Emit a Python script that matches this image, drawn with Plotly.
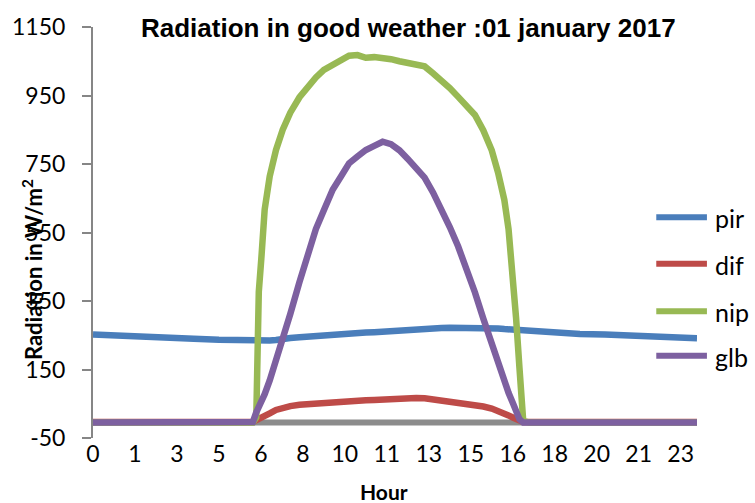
import plotly.graph_objects as go

# minute of day (0..1439), shared sampling grid
minutes = [0, 60, 120, 180, 240, 300, 360, 381, 389, 391, 395, 401, 409, 421, 436, 452, 470,
           492, 510, 531, 550, 571, 590, 610, 630, 650, 670, 690, 710, 730, 750, 770, 790,
           810, 830, 850, 870, 890, 910, 930, 950, 965, 980, 990, 1000, 1008, 1016, 1025,
           1040, 1100, 1160, 1220, 1280, 1340, 1400, 1439]

pir = [252, 250, 246, 243, 240, 237, 234, 233, 233, 233, 233, 234, 234, 235, 236, 240, 242,
       244, 246, 248, 250, 252, 254, 256, 257, 258, 259, 261, 263, 265, 266, 268, 269,
       270, 271, 272, 272, 273, 273, 272, 271, 270, 268, 267, 266, 265, 265, 264,
       262, 257, 254, 252, 249, 246, 243, 241]

dif = [-3, -3, -3, -3, -3, -3, -3, -3, 2, 3, 5, 8, 13, 22, 32, 38, 43,
       47, 49, 50, 51, 52, 55, 57, 58, 60, 61, 63, 65, 66, 67, 67, 66,
       63, 60, 57, 54, 50, 47, 42, 36, 30, 22, 16, 10, 5, 0, -3,
       -3, -3, -3, -3, -3, -3, -3, -3]

nip = [-5, -5, -5, -5, -5, -5, -5, -5, 10, 233, 377, 473, 617, 714, 791, 850, 900,
       945, 975, 1003, 1025, 1041, 1055, 1066, 1068, 1060, 1062, 1060, 1056, 1050, 1044, 1042, 1035,
       1015, 995, 972, 946, 921, 893, 848, 790, 725, 645, 560, 440, 300, 155, 0,
       -5, -5, -5, -5, -5, -5, -5, -5]

glb = [-5, -5, -5, -5, -5, -5, -5, -3, 25, 30, 40, 58, 78, 118, 173, 233, 312,
       406, 477, 560, 615, 675, 712, 752, 772, 791, 803, 815, 808, 790, 765, 740, 710,
       667, 620, 566, 509, 444, 375, 298, 222, 167, 112, 82, 53, 29, 5, -5,
       -5, -5, -5, -5, -5, -5, -5, -5]

zero_line = [-5] * len(minutes)

series_names = ["pir", "dif", "nip", "glb"]
series_values = [pir, dif, nip, glb]
series_colors = ["#4A7EBB", "#BE4B48", "#98B954", "#7D60A0"]

tick_minutes = [0, 100, 200, 300, 400, 500, 600, 700, 800, 900, 1000, 1100, 1200, 1300, 1400]
tick_labels = ["0", "1", "3", "5", "6", "8", "10", "11", "13", "15", "16", "18", "20", "21", "23"]
y_ticks = [-50, 150, 350, 550, 750, 950, 1150]
y_tick_labels = ["-50", "150", "350", "550", "750", "950", "1150"]

title_text = "Radiation in good weather :01 january 2017"
x_title = "Hour"
y_title = "Radiation in W/m<sup>2</sup>"

fig = go.Figure()
fig.add_trace(go.Scatter(x=minutes, y=zero_line, mode="lines",
                         line=dict(color="#8C8C8C", width=6), showlegend=False, hoverinfo="skip"))
for name, vals, col in zip(series_names, series_values, series_colors):
    fig.add_trace(go.Scatter(x=minutes, y=vals, mode="lines", name=name,
                             line=dict(color=col, width=6.5), showlegend=False))

# plot area: x 89..697 px, y 23..438 px
L, R, T, B = 89, 697, 23, 438
W, H = R - L, B - T

def px(x):
    return (x - L) / W

def py(y):
    return (B - y) / H

shapes = []
annotations = []
leg_y = [215, 262, 310, 355]
for name, col, yy in zip(series_names, series_colors, leg_y):
    shapes.append(dict(type="line", xref="paper", yref="paper", x0=px(656), x1=px(707),
                       y0=py(yy), y1=py(yy), line=dict(color=col, width=6)))
    annotations.append(dict(text=name, xref="paper", yref="paper", x=px(713), y=py(yy + 1),
                            xanchor="left", yanchor="middle", showarrow=False,
                            font=dict(family="Lato", size=25, color="#000000")))

annotations.append(dict(text="<b>" + title_text + "</b>", xref="paper", yref="paper",
                        x=px(407), y=py(24), xanchor="center", yanchor="middle", showarrow=False,
                        font=dict(family="Liberation Sans", size=26, color="#000000")))
annotations.append(dict(text="<b>" + x_title + "</b>", xref="paper", yref="paper",
                        x=px(382), y=py(492), xanchor="center", yanchor="middle", showarrow=False,
                        font=dict(family="Lato", size=21, color="#000000")))
annotations.append(dict(text="<b>" + y_title + "</b>", xref="paper", yref="paper",
                        x=px(28), y=py(268), xanchor="center", yanchor="middle", showarrow=False,
                        textangle=-90, font=dict(family="Lato", size=22, color="#000000")))

fig.update_layout(
    width=755, height=503,
    margin=dict(l=L, r=755 - R, t=T, b=503 - B),
    paper_bgcolor="white", plot_bgcolor="white",
    showlegend=False,
    shapes=shapes, annotations=annotations,
    xaxis=dict(range=[0, 1439], tickvals=tick_minutes, ticktext=tick_labels,
               showgrid=False, zeroline=False, showline=False, ticks="",
               tickfont=dict(family="Lato", size=23, color="#000000")),
    yaxis=dict(range=[-50, 1150], tickvals=y_ticks, ticktext=y_tick_labels,
               showgrid=False, zeroline=False,
               showline=True, linecolor="#868686", linewidth=2,
               ticks="outside", ticklen=9, tickwidth=2, tickcolor="#868686",
               ticklabelstandoff=12,
               tickfont=dict(family="Lato", size=23, color="#000000")),
)

fig.write_html("out.html")
